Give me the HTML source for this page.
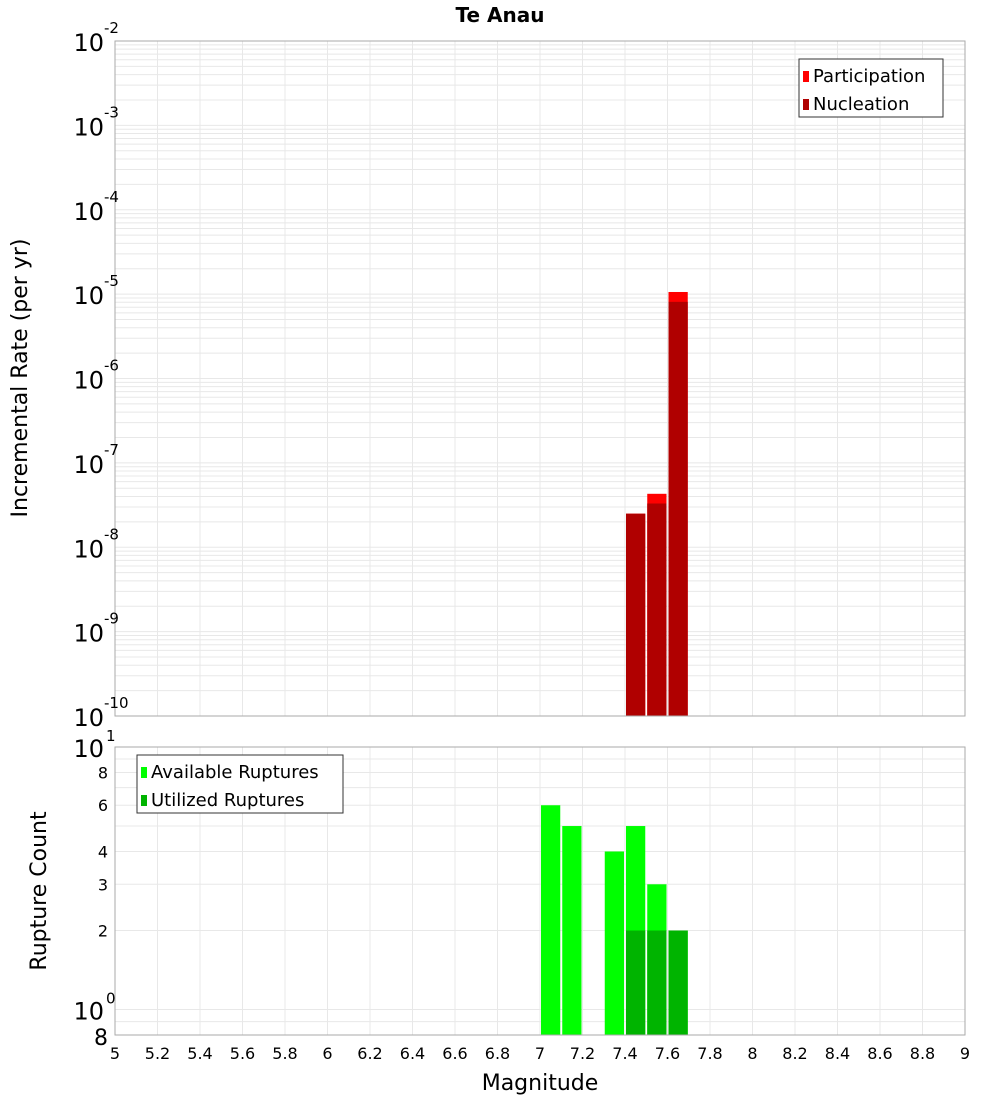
<!DOCTYPE html>
<html><head><meta charset="utf-8"><style>
body{margin:0;background:#fff;font-family:"DejaVu Sans","Liberation Sans",sans-serif}
svg text{font-family:"DejaVu Sans","Liberation Sans",sans-serif}
</style></head><body>
<svg id="c" width="1000" height="1100" xmlns="http://www.w3.org/2000/svg"></svg>
<script>
const magBins=[7.45,7.55,7.65];
const participation=[2.5e-8,4.3e-8,1.06e-5];
const nucleation=[2.5e-8,3.3e-8,8.1e-6];
const countBins=[7.05,7.15,7.35,7.45,7.55,7.65];
const available=[6,5,4,5,3,2];
const utilBins=[7.45,7.55,7.65];
const utilized=[2,2,2];
const xTicks=["5","5.2","5.4","5.6","5.8","6","6.2","6.4","6.6","6.8","7","7.2","7.4","7.6","7.8","8","8.2","8.4","8.6","8.8","9"];
const topExps=[-2,-3,-4,-5,-6,-7,-8,-9,-10];
const botTicks=[8,6,4,3,2];

const NS="http://www.w3.org/2000/svg",svg=document.getElementById('c');
function el(t,a,p){const e=document.createElementNS(NS,t);for(const k in a)e.setAttribute(k,a[k]);(p||svg).appendChild(e);return e;}
const L=115,R=965;
const X=m=>L+(m-5)/4*(R-L);
const T0=41,T1=716;
const YT=v=>T0+(-2-Math.log10(v))/8*(T1-T0);
const B0=747,B1=1035;
const YB=v=>B0+(1-Math.log10(v))/(1-Math.log10(0.8))*(B1-B0);

// top grid
const tg=el('g',{});


for(let d=-10;d<-2;d++)for(let k=1;k<10;k++){const y=YT(k*Math.pow(10,d));el('line',{x1:L,x2:R,y1:y,y2:y,stroke:'#e8e8e8','stroke-width':1},tg);}
for(let i=0;i<xTicks.length;i++){const x=X(+xTicks[i]);el('line',{x1:x,x2:x,y1:T0,y2:T1,stroke:'#e8e8e8'},tg);}
// bottom grid
const bg=el('g',{});


for(const v of [0.9,1,2,3,4,5,6,7,8,9]){const y=YB(v);el('line',{x1:L,x2:R,y1:y,y2:y,stroke:'#e8e8e8'},bg);}
for(let i=0;i<xTicks.length;i++){const x=X(+xTicks[i]);el('line',{x1:x,x2:x,y1:B0,y2:B1,stroke:'#e8e8e8'},bg);}

// top bars
magBins.forEach((m,i)=>{
 const x=X(m-0.05)+1,w=X(m+0.05)-X(m-0.05)-2;
 let r=el('rect',{x:x,y:YT(participation[i]),width:w,height:T1-YT(participation[i]),fill:'#ff0000'});
 
 
 r=el('rect',{x:x,y:YT(nucleation[i]),width:w,height:T1-YT(nucleation[i]),fill:'#b00000'});
 
 
});
// bottom bars
countBins.forEach((m,i)=>{
 const x=X(m-0.05)+1,w=X(m+0.05)-X(m-0.05)-2;
 const r=el('rect',{x:x,y:YB(available[i]),width:w,height:B1-YB(available[i]),fill:'#00ff00'});
 
 
});
utilBins.forEach((m,i)=>{
 const x=X(m-0.05)+1,w=X(m+0.05)-X(m-0.05)-2;
 const r=el('rect',{x:x,y:YB(utilized[i]),width:w,height:B1-YB(utilized[i]),fill:'#00b400'});
 
 
});

// frames
let f=el('rect',{x:L,y:T0,width:R-L,height:T1-T0,fill:'none',stroke:'#aaa'});

f=el('rect',{x:L,y:B0,width:R-L,height:B1-B0,fill:'none',stroke:'#aaa'});


// title
let t=el('text',{x:500,y:22,'text-anchor':'middle','font-size':20,'font-weight':'bold'});t.textContent='Te Anau';


// top y ticks
topExps.forEach(e=>{
 const y=YT(Math.pow(10,e));
 const g=el('text',{x:104,y:y+10,'text-anchor':'end','font-size':24});
 
 g.textContent='10';
 const s=el('text',{x:104,y:y-8,'font-size':15});s.textContent=String(e);
 
});
// bottom y ticks
[[1,'1'],[0,'0']].forEach(([e,s])=>{
 const y=YB(Math.pow(10,e));
 const g=el('text',{x:104,y:y+10,'text-anchor':'end','font-size':24});g.textContent='10';
 
 const q=el('text',{x:106,y:y-6,'font-size':15});q.textContent=s;
 
});
botTicks.forEach(v=>{
 const y=YB(v);
 const g=el('text',{x:108,y:y+6,'text-anchor':'end','font-size':16});g.textContent=String(v);
 
});
t=el('text',{x:108,y:B1+10,'text-anchor':'end','font-size':22});t.textContent='8';


// x ticks
xTicks.forEach(s=>{
 const g=el('text',{x:X(+s),y:1059,'text-anchor':'middle','font-size':16});g.textContent=s;
 
});
t=el('text',{x:540,y:1090,'text-anchor':'middle','font-size':22});t.textContent='Magnitude';

t=el('text',{x:0,y:0,'text-anchor':'middle','font-size':22,transform:'translate(27,378) rotate(-90)'});t.textContent='Incremental Rate (per yr)';

t=el('text',{x:0,y:0,'text-anchor':'middle','font-size':22,transform:'translate(46,891) rotate(-90)'});t.textContent='Rupture Count';


// legends
function legend(x,y,w,items,name){
 const g=el('g',{});
 el('rect',{x:x,y:y,width:w,height:58,fill:'#fff',stroke:'#333'},g);
 items.forEach((it,i)=>{
  el('rect',{x:x+4,y:y+12+i*28,width:6,height:11,fill:it[1]},g);
  const tx=el('text',{x:x+14,y:y+23+i*28,'font-size':18},g);tx.textContent=it[0];
  
 });
}
legend(799,59,144,[['Participation','#ff0000'],['Nucleation','#b00000']],'top-legend');
legend(137,755,206,[['Available Ruptures','#00ff00'],['Utilized Ruptures','#00b400']],'bottom-legend');
</script>
</body></html>
